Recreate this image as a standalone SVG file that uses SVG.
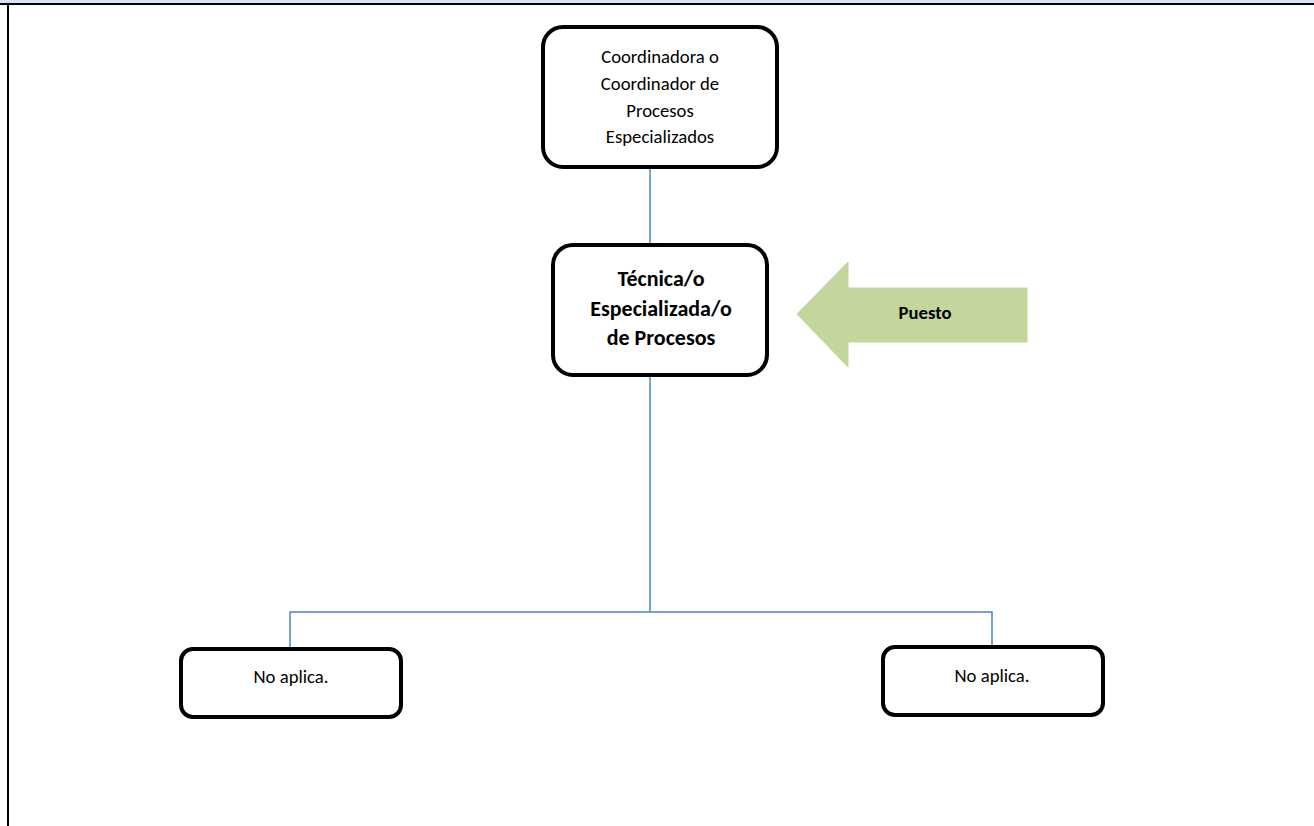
<svg xmlns="http://www.w3.org/2000/svg" width="1314" height="826" viewBox="0 0 1314 826">
<style>
.box{fill:#fff;stroke:#000;stroke-width:4}
.t{font-family:Carlito,Calibri,"Liberation Sans",sans-serif;font-size:18.7px;fill:#000;text-anchor:middle}
.b{font-weight:bold;font-size:22px}
.c{stroke:#4f81bd;stroke-width:1.5;fill:none}
</style>
<rect x="0" y="0" width="1314" height="4" fill="#dbe5f1"/>
<line x1="0" y1="4" x2="1314" y2="4" stroke="#000" stroke-width="2"/>
<line x1="8" y1="4" x2="8" y2="826" stroke="#000" stroke-width="2"/>
<g id="connectors">
<path class="c" d="M650 167V245"/>
<path class="c" d="M650 375V612"/>
<path class="c" d="M290 650V612H992V645"/>
</g>
<g id="n1">
<rect class="box" x="543" y="27" width="234" height="140" rx="20"/>
<text class="t" x="660" y="63">Coordinadora o</text>
<text class="t" x="660" y="90">Coordinador de</text>
<text class="t" x="660" y="117">Procesos</text>
<text class="t" x="660" y="143">Especializados</text>
</g>
<g id="n2">
<rect class="box" x="553" y="245" width="214" height="130" rx="20"/>
<text class="t b" x="661" y="286">Técnica/o</text>
<text class="t b" x="661" y="316">Especializada/o</text>
<text class="t b" x="661" y="345">de Procesos</text>
</g>
<g id="puesto">
<polygon points="797,314 848,262 848,288 1027,288 1027,342 848,342 848,367" fill="#c3d69b" stroke="#c3d69b" stroke-width="1" stroke-linejoin="round"/>
<text class="t" x="925" y="319" font-weight="bold">Puesto</text>
</g>
<g id="n3">
<rect class="box" x="181" y="649" width="220" height="68" rx="12"/>
<text class="t" x="291" y="683">No aplica.</text>
</g>
<g id="n4">
<rect class="box" x="883" y="647" width="220" height="68" rx="12"/>
<text class="t" x="992" y="682">No aplica.</text>
</g>
</svg>
